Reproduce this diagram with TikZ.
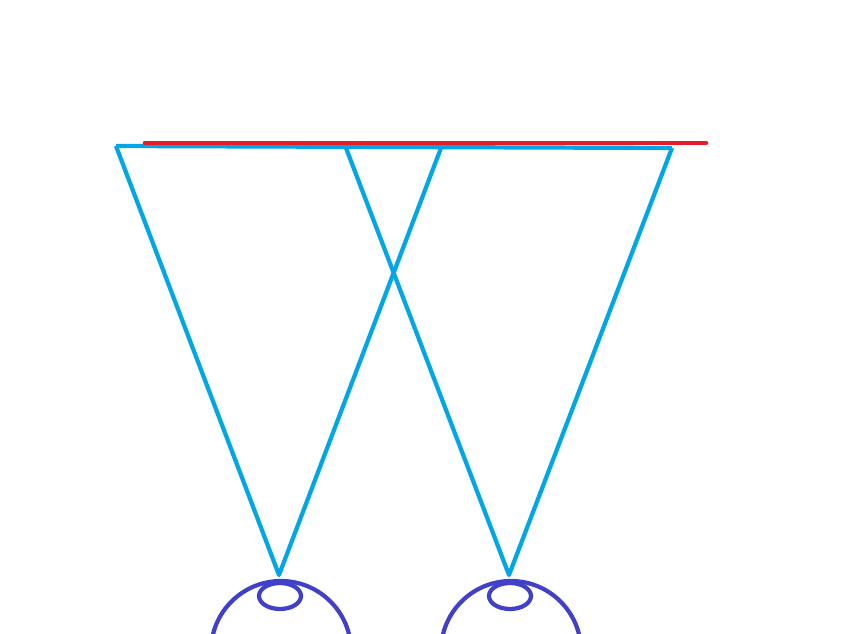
\documentclass[tikz,border=0pt]{standalone}
\definecolor{cy}{RGB}{0,166,230}
\definecolor{ey}{RGB}{64,64,200}
\definecolor{rd}{RGB}{225,30,40}
\begin{document}
\begin{tikzpicture}[x=0.02cm,y=-0.02cm,
  beam/.style={draw=cy,line width=2.4pt,line join=round},
  eye/.style={draw=ey,line width=2.4pt}]
\useasboundingbox (0,0) rectangle (862,634);
\clip (0,0) rectangle (862,634);
\coordinate (a1) at (116,146); \coordinate (b1) at (441,148); \coordinate (p1) at (279,575);
\coordinate (a2) at (346,148); \coordinate (b2) at (672,148); \coordinate (p2) at (509,575);
\draw[beam] (a1) -- (b2);
\draw[beam] (a1) -- (p1) -- (b1);
\draw[beam] (a2) -- (p2) -- (b2);
\coordinate (r1) at (145,143); \coordinate (r2) at (706,143);
\draw[draw=rd,line width=2.6pt,line cap=round] (r1) -- (r2);
\draw[eye] (281,651) circle (70);
\draw[eye] (280,596) ellipse (21 and 13);
\draw[eye] (511,651) circle (70);
\draw[eye] (510,596) ellipse (21 and 13);
\end{tikzpicture}
\end{document}
